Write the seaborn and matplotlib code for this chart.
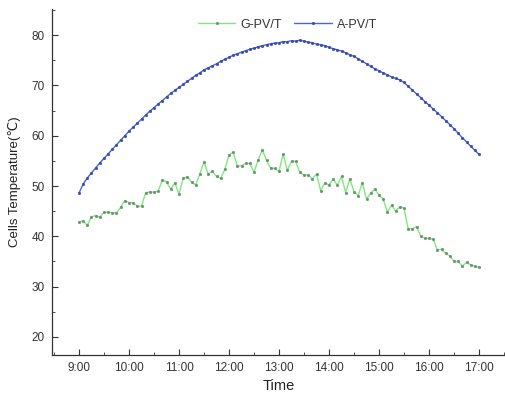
import numpy as np
import pandas as pd
import matplotlib
matplotlib.use("Agg")
import matplotlib.pyplot as plt
from matplotlib.ticker import MultipleLocator
import seaborn as sns

# ---- data (5-minute samples, 9:00 -> 17:00) ----
hours = [9 + m / 60 for m in range(0, 8 * 60 + 1, 5)]

g_pvt = [42.9, 43.0, 42.2, 43.9, 44.1, 43.8, 44.8, 44.8, 44.7, 44.7, 45.8, 47.1,
         46.7, 46.7, 46.0, 46.0, 48.7, 48.8, 48.8, 49.0, 51.2, 50.8, 49.4, 50.6,
         48.4, 51.5, 51.8, 50.8, 50.2, 52.4,
         54.8, 52.4, 52.9, 51.9, 51.5, 53.3,
         56.2, 56.7, 54.0, 54.0, 54.5, 54.5, 52.7, 55.2, 57.2, 55.1, 53.5, 53.5,
         52.9, 56.4, 53.1, 54.9, 54.9, 52.7, 52.2, 52.2, 51.4, 52.4, 49.1, 50.6,
         50.2, 51.4, 50.2,
         51.9, 48.7, 51.4, 48.9, 48.1, 50.7, 47.4, 48.6, 49.4,
         48.2, 47.4, 44.8, 46.2, 45.0, 45.9, 45.6, 41.5, 41.5, 41.9, 40.1, 39.6,
         39.6, 39.4, 37.3, 37.4, 36.6, 36.1, 35.0, 35.0, 34.1, 34.8, 34.3, 34.0,
         33.9]

a_pvt = [48.6, 50.4, 51.6, 52.6, 53.6, 54.6, 55.5, 56.4, 57.3, 58.2, 59.1, 60.0,
         60.9, 61.7, 62.5, 63.3, 64.1, 64.9, 65.6, 66.3, 67.0, 67.7, 68.4, 69.0,
         69.6, 70.2, 70.8, 71.4, 72.0, 72.5, 73.1, 73.5, 73.9, 74.3, 74.8, 75.2,
         75.6, 76.0, 76.3, 76.6, 76.9, 77.2, 77.4, 77.7, 77.9, 78.1, 78.3, 78.4,
         78.5, 78.7, 78.7, 78.9, 78.8, 79.0, 78.8, 78.6, 78.5, 78.2, 78.1, 77.9,
         77.6, 77.3, 77.1, 76.8, 76.5, 76.1, 75.8, 75.3, 74.8, 74.3, 73.8, 73.3,
         72.9, 72.5, 72.1, 71.7, 71.4, 71.1, 70.6, 69.8, 69.1, 68.3, 67.6, 66.8,
         66.1, 65.3, 64.6, 63.8, 63.0, 62.2, 61.4, 60.5, 59.6, 58.8, 57.9, 57.1,
         56.3]

series_names = ["G-PV/T", "A-PV/T"]
tick_hours = [9, 10, 11, 12, 13, 14, 15, 16, 17]
tick_labels = ["9:00", "10:00", "11:00", "12:00", "13:00", "14:00", "15:00", "16:00", "17:00"]
y_ticks = [20, 30, 40, 50, 60, 70, 80]

df = pd.DataFrame({
    "Time": hours * 2,
    "Temp": g_pvt + a_pvt,
    "Series": [series_names[0]] * len(hours) + [series_names[1]] * len(hours),
})

sns.set_style("ticks")
plt.rcParams["font.family"] = ["Liberation Sans", "DejaVu Sans"]

fig = plt.figure(figsize=(5.06, 4.08), dpi=100)
ax = fig.add_axes([52 / 506, 1 - 355 / 408, (505 - 52) / 506, (355 - 9) / 408])

line_colors = {"G-PV/T": "#80e880", "A-PV/T": "#4563ec"}
marker_colors = {"G-PV/T": "#6a8f70", "A-PV/T": "#3a4a9e"}

for name in series_names:
    sub = df[df["Series"] == name]
    sns.lineplot(data=sub, x="Time", y="Temp", ax=ax, color=line_colors[name],
                 linewidth=1.0, marker="o", markersize=2.0,
                 markerfacecolor=marker_colors[name], markeredgecolor=marker_colors[name],
                 markeredgewidth=0.2, label=name)

ax.set_xlim(8.46, 17.52)
ax.set_ylim(16.4, 85.2)
ax.set_xticks(tick_hours)
ax.set_xticklabels(tick_labels)
ax.set_yticks(y_ticks)
ax.xaxis.set_minor_locator(MultipleLocator(0.5))
ax.yaxis.set_minor_locator(MultipleLocator(5))
ax.tick_params(axis="both", which="major", direction="in", length=4, width=0.8,
               labelsize=8.5, colors="#333333", labelcolor="#333333", pad=5)
ax.tick_params(axis="both", which="minor", direction="in", length=2, width=0.6,
               colors="#333333")
for s in ["top", "right"]:
    ax.spines[s].set_visible(False)
for s in ["left", "bottom"]:
    ax.spines[s].set_color("#333333")
    ax.spines[s].set_linewidth(0.9)

ax.set_xlabel("Time", fontsize=10.5, color="#222222", labelpad=4)
ax.set_ylabel("Cells Temperature(\u2103)", fontsize=9.5, color="#222222", labelpad=8)

leg = ax.legend(loc="upper center", bbox_to_anchor=(0.52, 1.005), ncol=2, frameon=False,
                fontsize=9, handlelength=3.0, columnspacing=1.0, handletextpad=0.4)
for t in leg.get_texts():
    t.set_color("#333333")

fig.savefig("out.png", dpi=100)
